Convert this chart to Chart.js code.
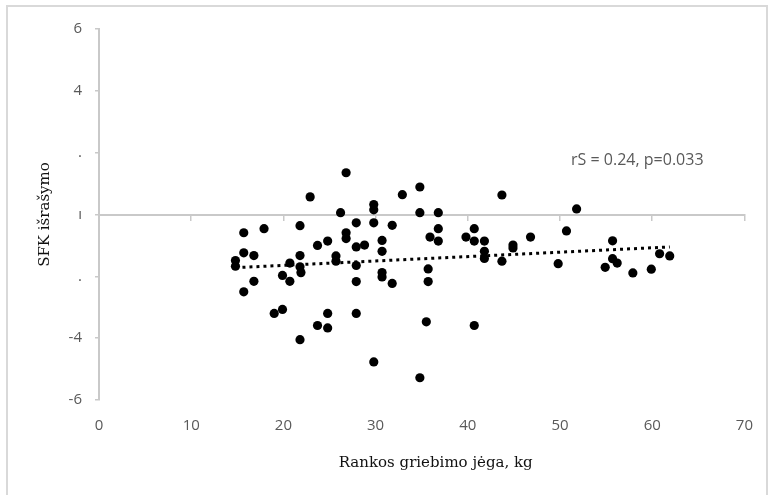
<!DOCTYPE html>
<html>
<head>
<meta charset="utf-8">
<script src="https://cdn.jsdelivr.net/npm/chart.js@4.4.1/dist/chart.umd.min.js"></script>
<style>
  html, body { margin: 0; padding: 0; background: #fff; }
  #wrap { position: relative; width: 770px; height: 495px; }
  #frame { position: absolute; left: 6px; top: 5px; width: 758px; height: 500px; border: 2px solid #d9d9d9; pointer-events: none; }
</style>
</head>
<body>
<div id="wrap">
  <canvas id="chart" width="770" height="495"></canvas>
  <div id="frame"></div>
</div>
<script>
// grip strength (kg) vs SFK score, one entry per subject
const gripStrength = [
  14.8, 14.8, 15.7, 15.7, 15.7, 16.8, 16.8, 17.9, 19.0, 19.9,
  19.9, 20.7, 20.7, 21.8, 21.8, 21.8, 21.9, 21.8, 22.9, 23.7,
  23.7, 24.8, 24.8, 24.8, 25.7, 25.7, 26.2, 26.8, 26.8, 26.8,
  27.9, 27.9, 28.8, 27.9, 27.9, 27.9, 29.8, 29.8, 29.8, 29.8,
  30.7, 30.7, 30.7, 30.7, 31.8, 31.8, 32.9, 34.8, 34.8, 34.8,
  35.5, 35.7, 35.7, 35.9, 36.8, 36.8, 36.8, 39.8, 40.7, 40.7,
  40.7, 41.8, 41.8, 41.8, 43.7, 43.7, 44.9, 44.9, 46.8, 49.8,
  50.7, 51.8, 54.9, 55.7, 55.7, 56.2, 57.9, 59.9, 60.8, 61.9
];
const sfkScore = [
  -1.49, -1.67, -0.59, -1.24, -2.50, -1.33, -2.16, -0.46, -3.20, -3.07,
  -1.97, -1.57, -2.16, -0.36, -1.33, -1.69, -1.88, -4.05,  0.57, -1.00,
  -3.59, -0.86, -3.20, -3.67, -1.34, -1.51,  0.06,  1.35, -0.59, -0.78,
  -0.27, -1.05, -0.99, -1.65, -2.17, -3.20,  0.32,  0.15, -0.27, -4.77,
  -0.84, -1.19, -1.88, -2.02, -0.35, -2.23,  0.64,  0.89,  0.06, -5.28,
  -3.47, -1.76, -2.17, -0.73,  0.06, -0.46, -0.86, -0.73, -0.46, -0.86,
  -3.59, -0.86, -1.19, -1.42,  0.63, -1.51, -0.99, -1.08, -0.73, -1.59,
  -0.53,  0.18, -1.71, -0.85, -1.43, -1.57, -1.89, -1.77, -1.27, -1.34
];

// linear trend endpoints
const trendX = [14.8, 61.9];
const trendY = [-1.72, -1.05];

const corrLabel = 'rS = 0.24, p=0.033';
const corrAt = [51.2, 1.75];

const xTitle = 'Rankos griebimo jėga, kg';
const yTitle = 'SFK išrašymo';

const axisGrey = '#c9c9c9';
const labelGrey = '#595959';
const tickFont = { family: '"Open Sans", sans-serif', size: 15 };
const titleFont = { family: '"DejaVu Serif", serif', size: 15 };

const points = gripStrength.map((g, i) => ({ x: g, y: sfkScore[i] }));
const trend = trendX.map((t, i) => ({ x: t, y: trendY[i] }));

// correlation note and x-axis caption
const textPlugin = {
  id: 'chartText',
  afterDatasetsDraw(chart) {
    const { ctx, chartArea, scales: { x, y } } = chart;
    ctx.save();
    ctx.font = '16px "Open Sans", sans-serif';
    ctx.fillStyle = labelGrey;
    ctx.textAlign = 'left';
    ctx.textBaseline = 'middle';
    ctx.fillText(corrLabel, x.getPixelForValue(corrAt[0]), y.getPixelForValue(corrAt[1]));

    ctx.font = `${titleFont.size}px ${titleFont.family}`;
    ctx.fillStyle = '#111';
    ctx.textAlign = 'center';
    ctx.fillText(xTitle, (chartArea.left + chartArea.right) / 2 + 14, chartArea.bottom + 63);
    ctx.restore();
  }
};

new Chart(document.getElementById('chart'), {
  type: 'scatter',
  data: {
    datasets: [
      {
        label: 'SFK',
        data: points,
        backgroundColor: '#000',
        borderWidth: 0,
        pointRadius: 4.6,
        order: 0
      },
      {
        type: 'line',
        label: 'trend',
        data: trend,
        borderColor: '#000',
        borderWidth: 3,
        borderDash: [3, 4],
        borderCapStyle: 'butt',
        pointRadius: 0,
        fill: false,
        order: 1
      }
    ]
  },
  options: {
    responsive: false,
    animation: false,
    events: [],
    layout: { padding: { left: 0, right: 24, top: 29, bottom: 0 } },
    plugins: {
      legend: { display: false },
      tooltip: { enabled: false }
    },
    scales: {
      x: {
        type: 'linear',
        position: 'bottom',
        min: 0,
        max: 70,
        ticks: { stepSize: 10, color: labelGrey, font: tickFont, padding: 17 },
        grid: { display: false, drawTicks: false },
        border: { display: false },
        afterFit: s => { s.height = 95; }
      },
      // horizontal axis line drawn through y = 0
      xZero: {
        type: 'linear',
        axis: 'x',
        position: { y: 0 },
        min: 0,
        max: 70,
        ticks: { stepSize: 10, display: false },
        grid: { display: true, drawOnChartArea: false, drawTicks: true, tickLength: 5, color: axisGrey, lineWidth: 1.5 },
        border: { display: true, color: axisGrey, width: 2 }
      },
      y: {
        type: 'linear',
        position: 'left',
        min: -6,
        max: 6,
        ticks: {
          stepSize: 2,
          color: labelGrey,
          font: tickFont,
          padding: 13,
          callback: v => (v === 2 || v === -2) ? '.' : (v === 0 ? 'ı' : v)
        },
        grid: { display: true, drawOnChartArea: false, drawTicks: true, tickLength: 4, color: axisGrey, lineWidth: 1.5 },
        border: { display: true, color: axisGrey, width: 2 },
        title: { display: true, text: yTitle, color: '#111', font: titleFont, padding: { top: 36, bottom: 0 } },
        afterFit: s => { s.width = 99; }
      }
    }
  },
  plugins: [textPlugin]
});
</script>
</body>
</html>
